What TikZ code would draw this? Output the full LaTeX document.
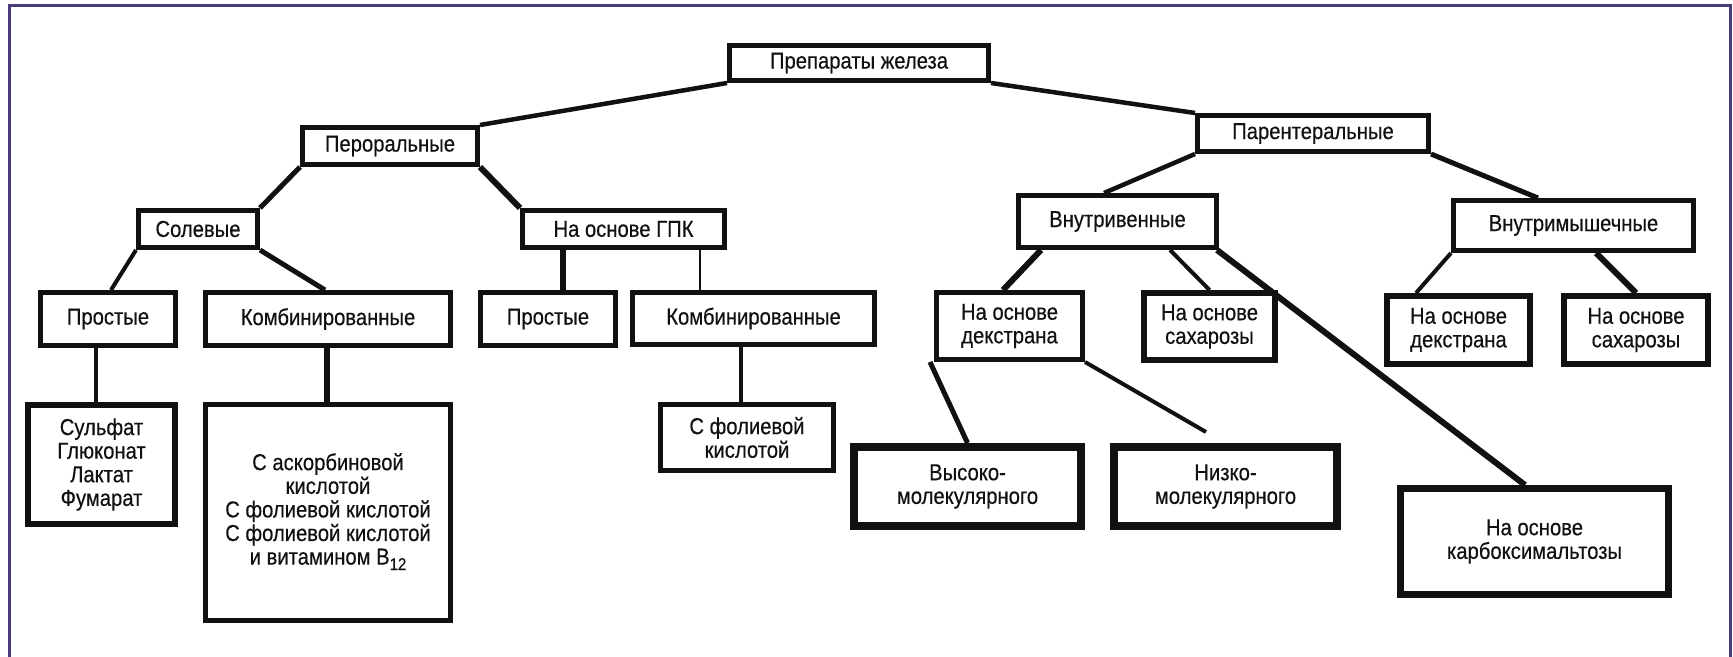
\documentclass[tikz,border=0pt]{standalone}
\usepackage{fontspec}
\setmainfont{Liberation Sans}[FakeStretch=0.88,FakeBold=0.4]
\usetikzlibrary{calc}
\definecolor{frame}{RGB}{74,58,122}
\definecolor{ink}{RGB}{17,17,17}
\newcommand{\bx}[7]{% name, x1,y1,x2,y2, lw(px), text
  \node[box, line width=#6*0.5pt,
        minimum width={(#4-#2-#6)*0.5pt},
        minimum height={(#5-#3-#6)*0.5pt}]
        (#1) at ({(#2+#4)/2},{(#3+#5)/2}) {#7};}
\newcommand{\lowsub}[1]{\raisebox{-0.45ex}{\fontsize{8.5}{8.5}\selectfont #1}}
\begin{document}
\begin{tikzpicture}[x=0.5pt,y=-0.5pt,
  box/.style={draw=ink, rectangle, inner sep=0pt, align=center, text=ink,
    font=\fontsize{11.5}{11.8}\selectfont},
  link/.style={draw=ink, line width=#1*0.5pt},
  link/.default=5]
\useasboundingbox (0,0) rectangle (1733,657);
\fill[white] (0,0) rectangle (1733,657);
\draw[frame, line width=1.5pt] (9.5,657) -- (9.5,6) -- (1730,6) -- (1730,657);

% level 0
\bx{top}{727}{43}{991}{83}{5}{Препараты железа}
% level 1
\bx{per}{300}{125}{480}{167}{5}{Пероральные}
\bx{par}{1195}{113}{1431}{154}{5}{Парентеральные}
% level 2
\bx{sol}{136}{208}{260}{250}{5}{Солевые}
\bx{gpk}{520}{208}{727}{250}{5}{На основе ГПК}
\bx{iv}{1016}{193}{1219}{250}{5}{Внутривенные}
\bx{im}{1451}{198}{1696}{253}{5}{Внутримышечные}
% level 3
\bx{pra}{38}{290}{178}{348}{5}{Простые}
\bx{kba}{203}{290}{453}{348}{5}{Комбинированные}
\bx{prb}{478}{290}{618}{348}{5}{Простые}
\bx{kbb}{630}{290}{877}{347}{5}{Комбинированные}
\bx{ivd}{934}{290}{1085}{362}{5}{На основе\\декстрана}
\bx{ivs}{1141}{290}{1278}{363}{6}{На основе\\сахарозы}
\bx{imd}{1384}{293}{1533}{367}{6}{На основе\\декстрана}
\bx{ims}{1561}{293}{1711}{367}{6}{На основе\\сахарозы}
% level 4
\bx{sul}{25}{402}{178}{527}{6}{Сульфат\\Глюконат\\Лактат\\Фумарат}
\bx{asc}{203}{402}{453}{623}{5}{\\[-4.2pt]С аскорбиновой\\кислотой\\С фолиевой кислотой\\С фолиевой кислотой\\и витамином B\lowsub{12}}
\bx{fol}{658}{402}{836}{473}{5}{С фолиевой\\кислотой}
\bx{hi}{850}{443}{1085}{530}{8}{Высоко-\\молекулярного}
\bx{lo}{1110}{443}{1341}{530}{8}{Низко-\\молекулярного}
\bx{carb}{1397}{485}{1672}{598}{7}{На основе\\карбоксимальтозы}

\coordinate (loend) at ([xshift=-9.75pt,yshift=5.5pt]lo.north);

% connectors
\draw[link=4.5] (top.south west) -- (per.north east);
\draw[link=4.5] (top.south east) -- (par.north west);
\draw[link=5] (per.south west) -- (sol.north east);
\draw[link=6] (per.south east) -- (gpk.north west);
\draw[link=4] (sol.south west) -- ([xshift=1.5pt]pra.north);
\draw[link=5] (sol.south east) -- ([xshift=-1.5pt]kba.north);
\draw[link=6] ([xshift=7.5pt]prb.north) -- ([xshift=7.5pt]prb.north |- gpk.south);
\draw[link=2.5] ([xshift=-26.75pt]kbb.north) -- ([xshift=-26.75pt]kbb.north |- gpk.south);
\draw[link=3.5] ([xshift=-2.75pt]sul.north) -- ([xshift=-2.75pt]sul.north |- pra.south);
\draw[link=6] ([xshift=-0.5pt]asc.north) -- ([xshift=-0.5pt]asc.north |- kba.south);
\draw[link=3.5] ([xshift=-3pt]fol.north) -- ([xshift=-3pt]fol.north |- kbb.south);
\draw[link=4.5] (par.south west) -- ([xshift=-6.75pt]iv.north);
\draw[link=5] (par.south east) -- ([xshift=-17.75pt]im.north);
\draw[link=6] ([xshift=-38.25pt]iv.south) -- ([xshift=-3.25pt]ivd.north);
\draw[link=4] ([xshift=26.25pt]iv.south) -- (ivs.north);
\draw[link=6] ([xshift=-1pt]iv.south east) -- ([xshift=-4.75pt]carb.north);
\draw[link=4] (im.south west) -- ([xshift=-21.25pt]imd.north);
\draw[link=6] ([xshift=11.25pt]im.south) -- (ims.north);
\draw[link=5] ([xshift=-2pt]ivd.south west) -- (hi.north);
\draw[link=4] (ivd.south east) -- (loend);
\end{tikzpicture}
\end{document}
